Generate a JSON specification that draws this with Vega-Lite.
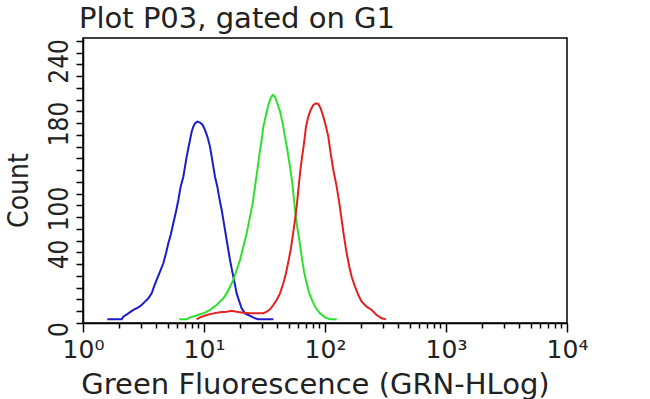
{
  "$schema": "https://vega.github.io/schema/vega-lite/v6.json",
  "width": 484,
  "height": 285,
  "autosize": {"type": "none"},
  "padding": {"left": 83, "top": 38, "right": 83, "bottom": 76},
  "background": "white",
  "view": {"stroke": "black", "strokeWidth": 1.5},
  "title": {"text": "Plot P03, gated on G1", "anchor": "start", "frame": "group", "font": "DejaVu Sans", "fontSize": 29, "fontWeight": "normal", "color": "#222", "baseline": "alphabetic", "offset": 9, "dy": 28, "dx": -4},
  "data": {"values": [
    {"s":"b","x":1.589,"c":3.1},{"s":"b","x":2.087,"c":3.1},{"s":"b","x":2.154,"c":5.4},{"s":"b","x":2.370,"c":8.2},{"s":"b","x":2.606,"c":11.1},{"s":"b","x":2.867,"c":13.3},{"s":"b","x":3.053,"c":15.3},{"s":"b","x":3.253,"c":18.2},{"s":"b","x":3.467,"c":21.0},{"s":"b","x":3.694,"c":25.2},{"s":"b","x":3.862,"c":30.9},{"s":"b","x":4.063,"c":36.6},{"s":"b","x":4.329,"c":43.7},{"s":"b","x":4.612,"c":50.8},{"s":"b","x":4.853,"c":59.3},{"s":"b","x":5.073,"c":67.8},{"s":"b","x":5.303,"c":74.9},{"s":"b","x":5.579,"c":84.8},{"s":"b","x":5.869,"c":94.8},{"s":"b","x":6.136,"c":104.7},{"s":"b","x":6.415,"c":116.0},{"s":"b","x":6.749,"c":124.5},{"s":"b","x":6.966,"c":133.0},{"s":"b","x":7.190,"c":141.6},{"s":"b","x":7.422,"c":148.7},{"s":"b","x":7.661,"c":155.7},{"s":"b","x":7.909,"c":162.8},{"s":"b","x":8.163,"c":167.1},{"s":"b","x":8.426,"c":169.9},{"s":"b","x":8.808,"c":171.3},{"s":"b","x":9.267,"c":170.5},{"s":"b","x":9.750,"c":168.5},{"s":"b","x":10.19,"c":164.3},{"s":"b","x":10.66,"c":158.6},{"s":"b","x":11.21,"c":150.1},{"s":"b","x":11.57,"c":141.6},{"s":"b","x":11.94,"c":133.0},{"s":"b","x":12.33,"c":124.5},{"s":"b","x":12.89,"c":116.0},{"s":"b","x":13.39,"c":106.1},{"s":"b","x":14.00,"c":96.2},{"s":"b","x":14.45,"c":87.7},{"s":"b","x":14.92,"c":79.1},{"s":"b","x":15.39,"c":70.6},{"s":"b","x":15.89,"c":62.1},{"s":"b","x":16.40,"c":53.6},{"s":"b","x":16.93,"c":46.5},{"s":"b","x":17.47,"c":39.4},{"s":"b","x":18.04,"c":32.3},{"s":"b","x":18.62,"c":25.2},{"s":"b","x":19.59,"c":18.2},{"s":"b","x":20.48,"c":12.5},{"s":"b","x":21.82,"c":8.2},{"s":"b","x":23.25,"c":6.8},{"s":"b","x":24.77,"c":5.4},{"s":"b","x":26.40,"c":4.0},{"s":"b","x":28.12,"c":3.1},{"s":"b","x":37.41,"c":3.1},
    {"s":"g","x":6.254,"c":3.1},{"s":"g","x":7.190,"c":3.1},{"s":"g","x":7.661,"c":4.8},{"s":"g","x":8.426,"c":6.0},{"s":"g","x":9.267,"c":7.4},{"s":"g","x":10.19,"c":8.8},{"s":"g","x":11.21,"c":11.1},{"s":"g","x":11.94,"c":13.3},{"s":"g","x":12.73,"c":15.3},{"s":"g","x":13.56,"c":18.2},{"s":"g","x":14.45,"c":21.0},{"s":"g","x":15.39,"c":25.2},{"s":"g","x":16.40,"c":30.9},{"s":"g","x":17.47,"c":36.6},{"s":"g","x":18.62,"c":45.1},{"s":"g","x":19.84,"c":53.6},{"s":"g","x":21.14,"c":65.0},{"s":"g","x":22.52,"c":76.3},{"s":"g","x":24.00,"c":90.5},{"s":"g","x":25.25,"c":101.8},{"s":"g","x":26.40,"c":116.0},{"s":"g","x":27.60,"c":130.2},{"s":"g","x":28.67,"c":143.0},{"s":"g","x":29.97,"c":155.7},{"s":"g","x":30.94,"c":167.1},{"s":"g","x":32.54,"c":177.0},{"s":"g","x":34.01,"c":185.5},{"s":"g","x":35.56,"c":191.2},{"s":"g","x":36.94,"c":194.0},{"s":"g","x":38.62,"c":192.6},{"s":"g","x":40.37,"c":187.0},{"s":"g","x":42.47,"c":179.9},{"s":"g","x":44.68,"c":169.9},{"s":"g","x":46.71,"c":158.6},{"s":"g","x":48.83,"c":147.2},{"s":"g","x":51.37,"c":133.0},{"s":"g","x":53.70,"c":118.9},{"s":"g","x":55.79,"c":101.8},{"s":"g","x":58.32,"c":84.8},{"s":"g","x":61.37,"c":70.6},{"s":"g","x":64.15,"c":56.5},{"s":"g","x":67.06,"c":43.7},{"s":"g","x":70.55,"c":33.8},{"s":"g","x":74.22,"c":25.2},{"s":"g","x":79.10,"c":18.2},{"s":"g","x":84.25,"c":12.5},{"s":"g","x":90.93,"c":8.2},{"s":"g","x":100.0,"c":4.8},{"s":"g","x":110.0,"c":3.1},{"s":"g","x":124.9,"c":3.1},
    {"s":"r","x":8.698,"c":3.1},{"s":"r","x":9.267,"c":4.8},{"s":"r","x":10.52,"c":6.8},{"s":"r","x":11.94,"c":8.2},{"s":"r","x":13.56,"c":9.1},{"s":"r","x":15.39,"c":9.6},{"s":"r","x":16.93,"c":10.5},{"s":"r","x":18.62,"c":9.6},{"s":"r","x":21.14,"c":8.8},{"s":"r","x":24.00,"c":8.2},{"s":"r","x":27.25,"c":8.2},{"s":"r","x":30.94,"c":8.2},{"s":"r","x":32.95,"c":9.6},{"s":"r","x":35.12,"c":11.6},{"s":"r","x":37.41,"c":15.3},{"s":"r","x":39.86,"c":19.6},{"s":"r","x":42.47,"c":25.2},{"s":"r","x":45.25,"c":33.8},{"s":"r","x":47.61,"c":42.3},{"s":"r","x":49.77,"c":52.2},{"s":"r","x":52.03,"c":62.1},{"s":"r","x":54.04,"c":73.5},{"s":"r","x":56.50,"c":87.7},{"s":"r","x":58.32,"c":99.0},{"s":"r","x":60.22,"c":113.2},{"s":"r","x":62.16,"c":127.4},{"s":"r","x":64.15,"c":138.7},{"s":"r","x":67.06,"c":152.9},{"s":"r","x":69.66,"c":167.1},{"s":"r","x":72.83,"c":175.6},{"s":"r","x":76.13,"c":181.3},{"s":"r","x":80.10,"c":185.5},{"s":"r","x":84.25,"c":187.0},{"s":"r","x":88.08,"c":186.4},{"s":"r","x":92.08,"c":182.7},{"s":"r","x":96.87,"c":175.6},{"s":"r","x":101.9,"c":167.1},{"s":"r","x":106.5,"c":158.6},{"s":"r","x":111.4,"c":144.4},{"s":"r","x":117.2,"c":130.2},{"s":"r","x":124.9,"c":116.0},{"s":"r","x":131.4,"c":101.8},{"s":"r","x":137.3,"c":87.7},{"s":"r","x":143.6,"c":73.5},{"s":"r","x":151.1,"c":59.3},{"s":"r","x":158.9,"c":47.9},{"s":"r","x":166.1,"c":39.4},{"s":"r","x":177.0,"c":30.9},{"s":"r","x":188.6,"c":23.8},{"s":"r","x":200.9,"c":18.2},{"s":"r","x":221.0,"c":13.9},{"s":"r","x":243.1,"c":11.1},{"s":"r","x":267.3,"c":6.8},{"s":"r","x":294.0,"c":4.0},{"s":"r","x":319.2,"c":3.1}
  ]},
  "mark": {"type": "line", "strokeWidth": 2, "clip": true},
  "encoding": {
    "x": {
      "field": "x", "type": "quantitative",
      "scale": {"type": "log", "domain": [1, 10000], "nice": false},
      "axis": {
        "title": "Green Fluorescence (GRN-HLog)",
        "titleFont": "DejaVu Sans", "titleFontSize": 29, "titleFontWeight": "normal", "titleColor": "#222", "titlePadding": 8, "titleX": 232,
        "values": [1,2,3,4,5,6,7,8,9,10,20,30,40,50,60,70,80,90,100,200,300,400,500,600,700,800,900,1000,2000,3000,4000,5000,6000,7000,8000,9000,10000],
        "labelExpr": "indexof([1,10,100,1000,10000], datum.value) >= 0 ? '10' + ['⁰','¹','²','³','⁴'][round(log(datum.value)/LN10)] : ''",
        "labelFont": "DejaVu Sans", "labelFontSize": 25, "labelColor": "#222", "labelPadding": 5, "labelOverlap": false, "labelFlush": false, "labelBound": false,
        "tickSize": {"condition": {"test": "indexof([1,10,100,1000,10000], datum.value) >= 0", "value": 9}, "value": 5},
        "tickColor": "black", "tickWidth": 1.5, "domainColor": "black", "domainWidth": 1.5, "grid": false
      }
    },
    "y": {
      "field": "c", "type": "quantitative",
      "scale": {"domain": [0, 242.5], "nice": false},
      "axis": {
        "title": "Count",
        "titleFont": "Liberation Sans Narrow, DejaVu Sans Condensed, sans-serif", "titleFontSize": 28, "titleFontWeight": "normal", "titleColor": "#222", "titlePadding": 13, "titleY": 152,
        "values": [0,10,20,30,40,50,60,70,80,90,100,110,120,130,140,150,160,170,180,190,200,210,220,230,240],
        "labelExpr": "indexof([0,40,100,180,240], datum.value) >= 0 ? datum.label : ''",
        "labelAngle": -90, "labelAlign": "center", "labelBaseline": "bottom",
        "labelOffset": {"condition": [{"test": "datum.value == 0", "value": 6}, {"test": "datum.value == 40", "value": -22}, {"test": "datum.value == 100", "value": 3}, {"test": "datum.value == 180", "value": 12}, {"test": "datum.value == 240", "value": 20}], "value": 0},
        "labelFont": "Liberation Sans Narrow, DejaVu Sans Condensed, sans-serif", "labelFontSize": 26, "labelColor": "#222", "labelPadding": 4, "labelOverlap": false, "labelFlush": false, "labelBound": false,
        "tickSize": 7, "tickColor": "black", "tickWidth": 1.5, "domainColor": "black", "domainWidth": 1.5, "grid": false
      }
    },
    "color": {
      "field": "s", "type": "nominal",
      "scale": {"domain": ["b", "g", "r"], "range": ["#1c1cc8", "#2ee02e", "#e42020"]},
      "legend": null
    }
  }
}
